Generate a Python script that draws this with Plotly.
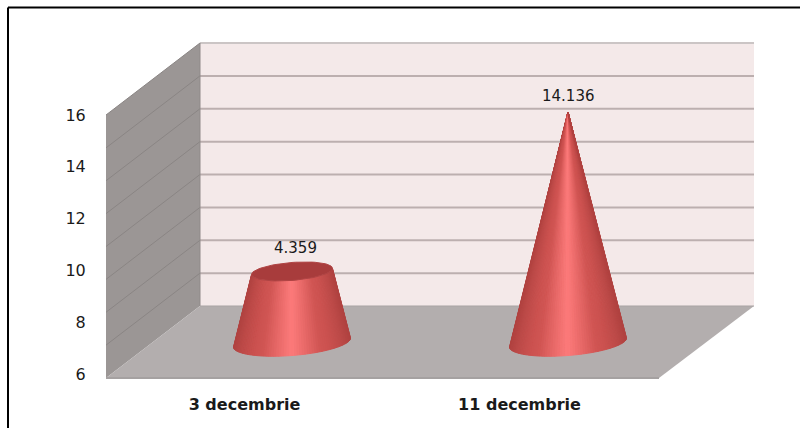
import math
import plotly.graph_objects as go

# Chart data
categories = ["3 decembrie", "11 decembrie"]
values = [4.359, 14.136]
value_labels = ["4.359", "14.136"]
axis_ticks = [6, 8, 10, 12, 14, 16]

# Canvas and projection geometry, in page pixels
W, H = 800, 428
PLOT_L, PLOT_R, PLOT_T, PLOT_B = 106, 754, 43, 378
BACK_L, BACK_B = 200, 306
FRONT_R = 659
DEPTH_DY = 72
GRID_STEPS = 8
CONE_X = [292, 568]
CONE_BASE_Y = 342.5
PX_PER_UNIT = 16.3
BASE_RX, BASE_RY, BASE_TILT = 58.5, 13.0, 4.5
CONE_FULL_VALUE = 14.136
STRIPS = 70


def px(x):
    return (x - PLOT_L) / (PLOT_R - PLOT_L)


def py(y):
    return (PLOT_B - y) / (PLOT_B - PLOT_T)


def poly(points, fill):
    path = "M" + " L".join(f"{px(x):.5f},{py(y):.5f}" for x, y in points) + " Z"
    return dict(type="path", path=path, xref="paper", yref="paper",
                fillcolor=fill, line=dict(width=0), layer="below")


def seg(x0, y0, x1, y1, color, width):
    return dict(type="line", xref="paper", yref="paper", layer="below",
                x0=px(x0), y0=py(y0), x1=px(x1), y1=py(y1),
                line=dict(color=color, width=width))


def mix(a, b, t):
    return tuple(a[i] + (b[i] - a[i]) * t for i in range(3))


def css(c):
    return "rgb({:.0f},{:.0f},{:.0f})".format(*c)


EDGE = (176, 66, 64)
BODY = (208, 84, 82)
PEAK = (252, 122, 122)


def surface_colour(u):
    # u runs from -1 at the left silhouette to +1 at the right one
    d = abs(u)
    if d < 0.5:
        return mix(PEAK, BODY, (d / 0.5) ** 1.1)
    return mix(BODY, EDGE, ((d - 0.5) / 0.5) ** 1.5)


shapes = [
    poly([(BACK_L, PLOT_T), (PLOT_R, PLOT_T), (PLOT_R, BACK_B), (BACK_L, BACK_B)], "#f4e9e9"),
    poly([(PLOT_L, PLOT_T + DEPTH_DY), (BACK_L, PLOT_T), (BACK_L, BACK_B), (PLOT_L, PLOT_B)], "#9b9695"),
    poly([(PLOT_L, PLOT_B), (BACK_L, BACK_B), (PLOT_R, BACK_B), (FRONT_R, PLOT_B)], "#b3aeae"),
]
for i in range(GRID_STEPS):
    gy = PLOT_T + (BACK_B - PLOT_T) * i / GRID_STEPS
    shapes.append(seg(PLOT_L, gy + DEPTH_DY, BACK_L, gy, "#8a8584", 1))
    shapes.append(seg(BACK_L, gy, PLOT_R, gy, "#bcafaf" if i else "#cbc5c5", 2))
shapes.append(seg(BACK_L, PLOT_T, BACK_L, BACK_B, "#8f8a89", 1))
shapes.append(seg(PLOT_L, PLOT_B, FRONT_R, PLOT_B, "#a5a1a1", 2))
shapes.append(seg(BACK_L, BACK_B, PLOT_R, BACK_B, "#a9a3a3", 1))

# Outer frame: left and top edges
shapes.append(seg(8, H, 8, 7.5, "#000000", 2))
shapes.append(seg(8, 7.5, W, 7.5, "#000000", 2))

fig = go.Figure()

y_low = (CONE_BASE_Y - PLOT_B) / PX_PER_UNIT
y_high = (CONE_BASE_Y - PLOT_T) / PX_PER_UNIT


def ring(cx, value, t):
    # Point on the tilted elliptical section at height `value`
    k = 1 - value / CONE_FULL_VALUE
    x = cx + BASE_RX * k * math.cos(t)
    dy = (BASE_RY * math.sin(t) - BASE_TILT * math.cos(t)) * k
    return x, value - dy / PX_PER_UNIT


for cx, v in zip(CONE_X, values):
    # Front half of the lateral surface, as shaded vertical strips
    for i in range(STRIPS):
        t0 = math.pi * (1 - i / STRIPS)
        t1 = math.pi * (1 - (i + 1) / STRIPS)
        xa, ya = ring(cx, 0, t0)
        xb, yb = ring(cx, 0, t1)
        xc, yc = ring(cx, v, t1)
        xd, yd = ring(cx, v, t0)
        colour = css(surface_colour(math.cos((t0 + t1) / 2)))
        fig.add_trace(go.Scatter(
            x=[xa, xb, xc, xd, xa], y=[ya, yb, yc, yd, ya],
            mode="lines", fill="toself", fillcolor=colour,
            line=dict(color=colour, width=1), hoverinfo="skip", showlegend=False,
        ))
    # Flat top of the truncated cone
    if v < CONE_FULL_VALUE:
        pts = [ring(cx, v, 2 * math.pi * i / 72) for i in range(73)]
        fig.add_trace(go.Scatter(
            x=[p[0] for p in pts], y=[p[1] for p in pts],
            mode="lines", fill="toself", fillcolor="#a83c3c",
            line=dict(color="#b04444", width=1), hoverinfo="skip", showlegend=False,
        ))

# Value labels sit just above each mark
annotations = []
for cx, v, label in zip(CONE_X, values, value_labels):
    rim = (1 - v / CONE_FULL_VALUE) * BASE_RY
    annotations.append(dict(
        x=cx + (3 if rim else 0), y=v, xref="x", yref="y", text=label, showarrow=False,
        yanchor="bottom", yshift=5 + rim * 0.8,
        font=dict(family="DejaVu Sans", size=15, color="#1a1a1a"),
    ))

# Carrier trace so the tick-label axes are drawn
fig.add_trace(go.Scatter(x=[0, 1], y=[axis_ticks[0]] * 2, xaxis="x2", yaxis="y2",
                         mode="none", hoverinfo="skip", showlegend=False))

LABEL_6_Y, LABEL_16_Y = 374.0, 115.0
tick_per_px = (axis_ticks[-1] - axis_ticks[0]) / (LABEL_6_Y - LABEL_16_Y)
CAT_L, CAT_R = 244.5, 519.5
cat_per_px = 1 / (CAT_R - CAT_L)

fig.update_layout(
    width=W, height=H, autosize=False,
    margin=dict(l=PLOT_L, r=W - PLOT_R, t=PLOT_T, b=H - PLOT_B, pad=0, autoexpand=False),
    paper_bgcolor="white", plot_bgcolor="rgba(0,0,0,0)",
    shapes=shapes, annotations=annotations, showlegend=False,
    xaxis=dict(range=[PLOT_L, PLOT_R], visible=False, fixedrange=True, automargin=False),
    yaxis=dict(range=[y_low, y_high], visible=False, fixedrange=True, automargin=False),
    xaxis2=dict(
        overlaying="x", side="bottom", type="linear", fixedrange=True, automargin=False,
        range=[(PLOT_L - CAT_L) * cat_per_px, (PLOT_R - CAT_L) * cat_per_px],
        tickmode="array", tickvals=[0, 1], ticktext=categories,
        showgrid=False, zeroline=False, showline=False, ticks="outside", ticklen=12,
        tickcolor="rgba(0,0,0,0)",
        tickfont=dict(family="DejaVu Sans", size=16, color="#1a1a1a", weight="bold"),
    ),
    yaxis2=dict(
        overlaying="y", side="left", anchor="x2", fixedrange=True, automargin=False,
        range=[axis_ticks[0] - (PLOT_B - LABEL_6_Y) * tick_per_px,
               axis_ticks[0] + (LABEL_6_Y - PLOT_T) * tick_per_px],
        tickmode="array", tickvals=axis_ticks, ticktext=[str(t) for t in axis_ticks],
        showgrid=False, zeroline=False, showline=False, ticks="outside", ticklen=16,
        tickcolor="rgba(0,0,0,0)",
        tickfont=dict(family="DejaVu Sans", size=16, color="#1a1a1a"),
    ),
)

fig.write_html("out.html")
